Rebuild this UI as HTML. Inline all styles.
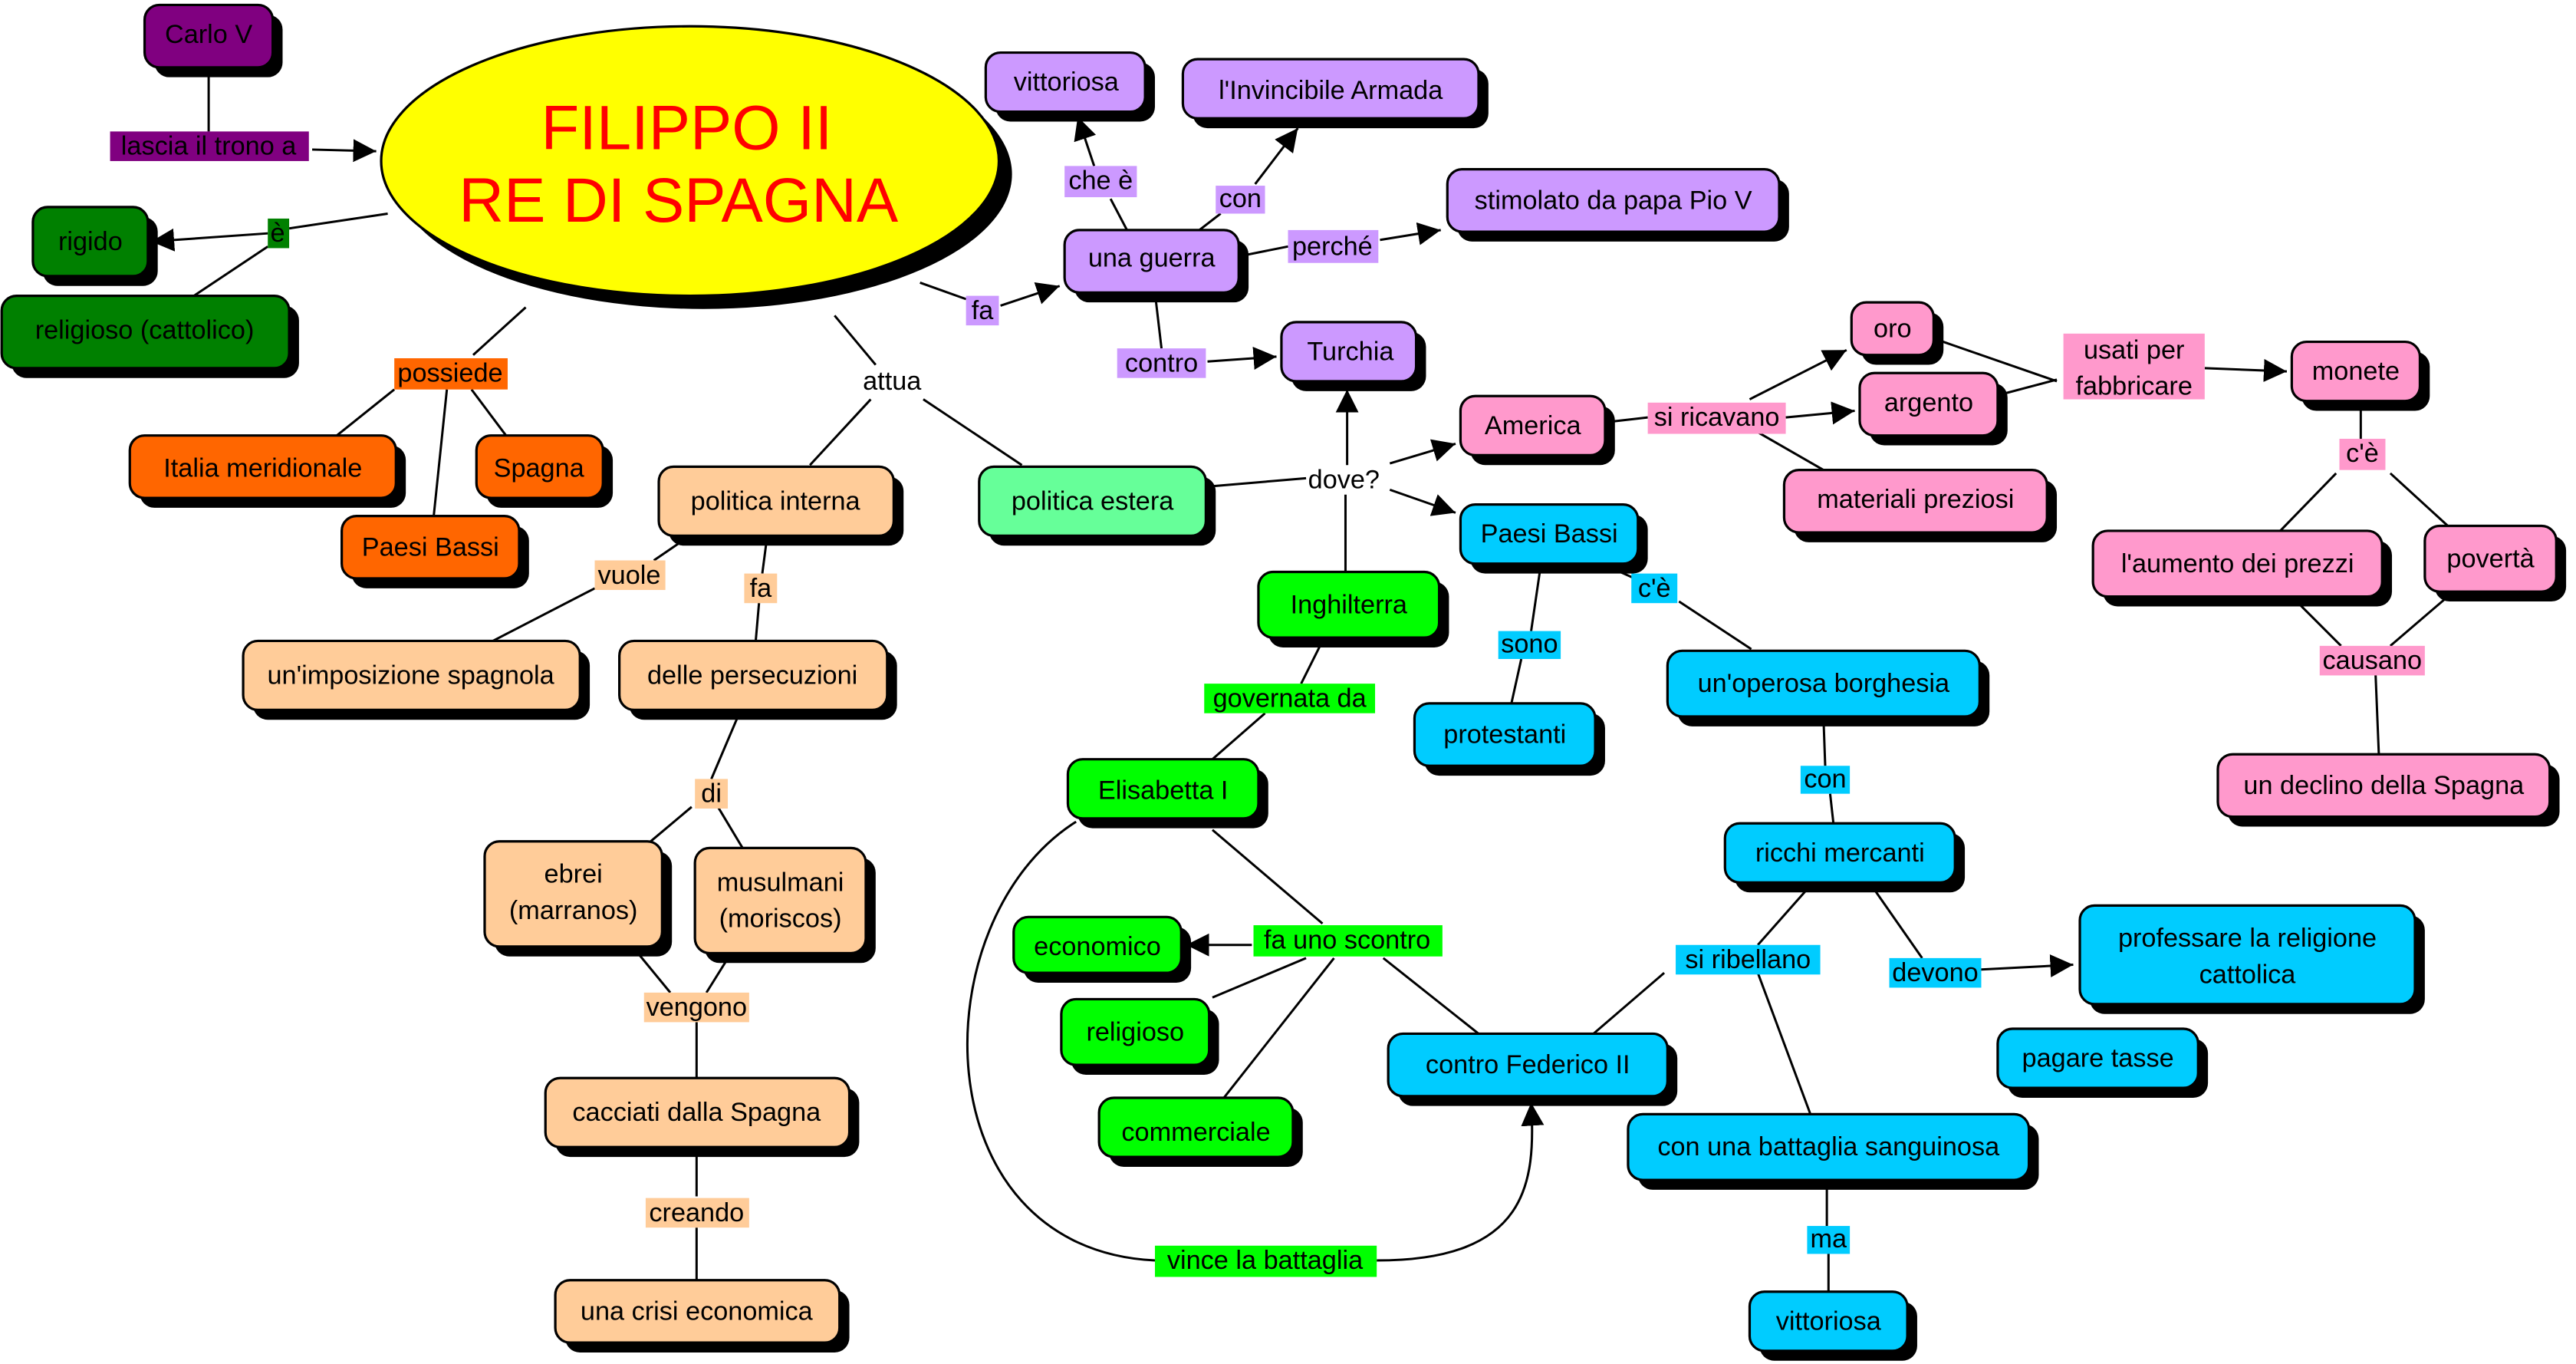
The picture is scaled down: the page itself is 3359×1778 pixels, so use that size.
<!DOCTYPE html>
<html><head><meta charset="utf-8"><style>
html,body{margin:0;padding:0;background:#fff;}
svg{display:block;}
text{font-family:"Liberation Sans",sans-serif;font-size:16px;fill:#000;text-anchor:middle;dominant-baseline:central;}
.n rect.s{fill:#000;}
.n rect.f{stroke:#000;stroke-width:1.5;}
line,path{stroke:#000;stroke-width:1.4;fill:none;}
</style></head><body>
<svg width="3359" height="1778" viewBox="0 0 1568 830" xmlns="http://www.w3.org/2000/svg">
<defs><marker id="a" viewBox="0 0 10 10" refX="10" refY="5" markerWidth="10" markerHeight="10" markerUnits="userSpaceOnUse" orient="auto"><path d="M0,0L10,5L0,10z" style="fill:#000;stroke:none"/></marker>
<marker id="b" viewBox="0 0 10 10" refX="10" refY="5" markerWidth="14" markerHeight="14" markerUnits="userSpaceOnUse" orient="auto"><path d="M0,0L10,5L0,10z" style="fill:#000;stroke:none"/></marker></defs>

<!-- edges -->
<g>
<line x1="127" y1="41" x2="127" y2="80"/>
<line x1="190" y1="91" x2="229" y2="92" marker-end="url(#b)"/>
<line x1="236" y1="130" x2="176" y2="139"/>
<line x1="163" y1="142" x2="92" y2="147" marker-end="url(#b)"/>
<line x1="163" y1="150" x2="118" y2="180"/>
<line x1="320" y1="187" x2="288" y2="216"/>
<line x1="240" y1="237" x2="205" y2="265"/>
<line x1="272" y1="237" x2="264" y2="314"/>
<line x1="287" y1="237" x2="308" y2="265"/>
<line x1="508" y1="192" x2="533" y2="222"/>
<line x1="530" y1="243" x2="493" y2="283"/>
<line x1="562" y1="243" x2="622" y2="283"/>
<line x1="560" y1="172" x2="588" y2="182"/>
<line x1="609" y1="186" x2="645" y2="174" marker-end="url(#b)"/>
<line x1="420" y1="326" x2="398" y2="341"/>
<line x1="362" y1="358" x2="300" y2="390"/>
<line x1="467" y1="326" x2="464" y2="349"/>
<line x1="462" y1="367" x2="460" y2="390"/>
<line x1="450" y1="434" x2="433" y2="474"/>
<line x1="421" y1="491" x2="396" y2="512"/>
<line x1="437" y1="491" x2="452" y2="516"/>
<line x1="385" y1="576" x2="408" y2="604"/>
<line x1="445" y1="580" x2="430" y2="604"/>
<line x1="424" y1="622" x2="424" y2="656"/>
<line x1="424" y1="700" x2="424" y2="728"/>
<line x1="424" y1="747" x2="424" y2="779"/>
<line x1="686" y1="140" x2="676" y2="121"/>
<line x1="666" y1="101" x2="656" y2="71" marker-end="url(#b)"/>
<line x1="730" y1="140" x2="743" y2="130"/>
<line x1="764" y1="112" x2="790" y2="78" marker-end="url(#b)"/>
<line x1="754" y1="156" x2="784" y2="150"/>
<line x1="840" y1="146" x2="877" y2="140" marker-end="url(#b)"/>
<line x1="703" y1="178" x2="707" y2="212"/>
<line x1="735" y1="220" x2="777" y2="217" marker-end="url(#b)"/>
<line x1="736" y1="296" x2="795" y2="291"/>
<line x1="820" y1="283" x2="820" y2="237" marker-end="url(#b)"/>
<line x1="846" y1="282" x2="886" y2="270" marker-end="url(#b)"/>
<line x1="846" y1="298" x2="886" y2="312" marker-end="url(#b)"/>
<line x1="819" y1="301" x2="819" y2="348"/>
<line x1="977" y1="257" x2="1003" y2="254"/>
<line x1="1065" y1="243" x2="1124" y2="213" marker-end="url(#b)"/>
<line x1="1087" y1="254" x2="1129" y2="250" marker-end="url(#b)"/>
<line x1="1070" y1="263" x2="1110" y2="286"/>
<line x1="1180" y1="207" x2="1252" y2="232"/>
<line x1="1218" y1="240" x2="1252" y2="231"/>
<line x1="1342" y1="224" x2="1392" y2="226" marker-end="url(#b)"/>
<line x1="1437" y1="244" x2="1437" y2="267"/>
<line x1="1422" y1="288" x2="1388" y2="323"/>
<line x1="1455" y1="288" x2="1490" y2="320"/>
<line x1="1398" y1="366" x2="1425" y2="393"/>
<line x1="1490" y1="363" x2="1455" y2="393"/>
<line x1="1446" y1="410" x2="1448" y2="459"/>
<line x1="938" y1="343" x2="932" y2="384"/>
<line x1="926" y1="401" x2="920" y2="428"/>
<line x1="975" y1="343" x2="995" y2="352"/>
<line x1="1022" y1="366" x2="1066" y2="395"/>
<line x1="1110" y1="438" x2="1111" y2="466"/>
<line x1="1114" y1="483" x2="1116" y2="501"/>
<line x1="1101" y1="540" x2="1070" y2="575"/>
<line x1="1140" y1="540" x2="1170" y2="583"/>
<line x1="1013" y1="592" x2="970" y2="629"/>
<line x1="1070" y1="592" x2="1102" y2="678"/>
<line x1="1205" y1="590" x2="1262" y2="587" marker-end="url(#b)"/>
<line x1="1112" y1="720" x2="1112" y2="746"/>
<line x1="1113" y1="763" x2="1113" y2="786"/>
<line x1="805" y1="390" x2="792" y2="416"/>
<line x1="770" y1="434" x2="738" y2="462"/>
<line x1="738" y1="505" x2="805" y2="562"/>
<line x1="762" y1="575" x2="722" y2="575" marker-end="url(#b)"/>
<line x1="795" y1="583" x2="738" y2="607"/>
<line x1="812" y1="583" x2="745" y2="668"/>
<line x1="842" y1="583" x2="900" y2="629"/>
<path d="M655,500 C560,560 560,760 703,767"/>
<path d="M838,767 C930,767 935,720 932,671" marker-end="url(#b)"/>
</g>

<!-- ellipse -->
<ellipse cx="428" cy="106" rx="188" ry="82" fill="#000"/>
<ellipse cx="420" cy="98" rx="188" ry="82" fill="#ffff00" stroke="#000" stroke-width="1.5"/>
<text x="418" y="78" style="font-size:38px;fill:#ff0000">FILIPPO II</text>
<text x="413" y="122" style="font-size:38px;fill:#ff0000">RE DI SPAGNA</text>

<!-- labels -->
<g>
<rect x="67" y="80" width="121" height="18" fill="#800080"/><text x="127" y="89">lascia il trono a</text>
<rect x="163" y="133" width="13" height="18" fill="#008000"/><text x="169" y="142">è</text>
<rect x="240" y="218" width="69" height="19" fill="#ff6600"/><text x="274" y="227">possiede</text>
<text x="543" y="232">attua</text>
<rect x="588" y="180" width="20" height="18" fill="#cc99ff"/><text x="598" y="189">fa</text>
<rect x="362" y="341" width="43" height="18" fill="#ffcc99"/><text x="383" y="350">vuole</text>
<rect x="453" y="349" width="20" height="18" fill="#ffcc99"/><text x="463" y="358">fa</text>
<rect x="423" y="474" width="20" height="18" fill="#ffcc99"/><text x="433" y="483">di</text>
<rect x="392" y="604" width="64" height="18" fill="#ffcc99"/><text x="424" y="613">vengono</text>
<rect x="393" y="729" width="63" height="18" fill="#ffcc99"/><text x="424" y="738">creando</text>
<rect x="648" y="101" width="44" height="19" fill="#cc99ff"/><text x="670" y="110">che è</text>
<rect x="740" y="113" width="30" height="17" fill="#cc99ff"/><text x="755" y="121">con</text>
<rect x="784" y="140" width="55" height="20" fill="#cc99ff"/><text x="811" y="150">perché</text>
<rect x="680" y="212" width="54" height="18" fill="#cc99ff"/><text x="707" y="221">contro</text>
<text x="818" y="292">dove?</text>
<rect x="1003" y="245" width="84" height="19" fill="#ff99cc"/><text x="1045" y="254">si ricavano</text>
<rect x="1256" y="203" width="86" height="40" fill="#ff99cc"/><text x="1299" y="213">usati per</text><text x="1299" y="235">fabbricare</text>
<rect x="1424" y="267" width="28" height="19" fill="#ff99cc"/><text x="1438" y="276">c'è</text>
<rect x="1412" y="393" width="64" height="18" fill="#ff99cc"/><text x="1444" y="402">causano</text>
<rect x="912" y="384" width="38" height="17" fill="#00ccff"/><text x="931" y="392">sono</text>
<rect x="993" y="349" width="28" height="18" fill="#00ccff"/><text x="1007" y="358">c'è</text>
<rect x="1096" y="466" width="30" height="17" fill="#00ccff"/><text x="1111" y="474">con</text>
<rect x="1020" y="575" width="88" height="18" fill="#00ccff"/><text x="1064" y="584">si ribellano</text>
<rect x="1150" y="583" width="56" height="18" fill="#00ccff"/><text x="1178" y="592">devono</text>
<rect x="1100" y="746" width="26" height="17" fill="#00ccff"/><text x="1113" y="754">ma</text>
<rect x="733" y="416" width="104" height="18" fill="#00ff00"/><text x="785" y="425">governata da</text>
<rect x="763" y="563" width="115" height="19" fill="#00ff00"/><text x="820" y="572">fa uno scontro</text>
<rect x="703" y="758" width="135" height="19" fill="#00ff00"/><text x="770" y="767">vince la battaglia</text>
</g>

<!-- nodes -->
<g class="n">
<rect class="s" x="94" y="9" width="78" height="38" rx="9"/><rect class="f" x="88" y="3" width="78" height="38" rx="9" fill="#800080"/><text x="127" y="21">Carlo V</text>
<rect class="s" x="26" y="132" width="70" height="42" rx="9"/><rect class="f" x="20" y="126" width="70" height="42" rx="9" fill="#008000"/><text x="55" y="147">rigido</text>
<rect class="s" x="7" y="186" width="175" height="44" rx="9"/><rect class="f" x="1" y="180" width="175" height="44" rx="9" fill="#008000"/><text x="88" y="201">religioso (cattolico)</text>
<rect class="s" x="85" y="271" width="162" height="38" rx="9"/><rect class="f" x="79" y="265" width="162" height="38" rx="9" fill="#ff6600"/><text x="160" y="285">Italia meridionale</text>
<rect class="s" x="296" y="271" width="77" height="38" rx="9"/><rect class="f" x="290" y="265" width="77" height="38" rx="9" fill="#ff6600"/><text x="328" y="285">Spagna</text>
<rect class="s" x="214" y="320" width="108" height="38" rx="9"/><rect class="f" x="208" y="314" width="108" height="38" rx="9" fill="#ff6600"/><text x="262" y="333">Paesi Bassi</text>
<rect class="s" x="407" y="290" width="143" height="42" rx="9"/><rect class="f" x="401" y="284" width="143" height="42" rx="9" fill="#ffcc99"/><text x="472" y="305">politica interna</text>
<rect class="s" x="602" y="290" width="138" height="42" rx="9"/><rect class="f" x="596" y="284" width="138" height="42" rx="9" fill="#66ff99"/><text x="665" y="305">politica estera</text>
<rect class="s" x="154" y="396" width="205" height="42" rx="9"/><rect class="f" x="148" y="390" width="205" height="42" rx="9" fill="#ffcc99"/><text x="250" y="411">un'imposizione spagnola</text>
<rect class="s" x="383" y="396" width="163" height="42" rx="9"/><rect class="f" x="377" y="390" width="163" height="42" rx="9" fill="#ffcc99"/><text x="458" y="411">delle persecuzioni</text>
<rect class="s" x="301" y="518" width="108" height="64" rx="9"/><rect class="f" x="295" y="512" width="108" height="64" rx="9" fill="#ffcc99"/><text x="349" y="532">ebrei</text><text x="349" y="554">(marranos)</text>
<rect class="s" x="429" y="522" width="104" height="64" rx="9"/><rect class="f" x="423" y="516" width="104" height="64" rx="9" fill="#ffcc99"/><text x="475" y="537">musulmani</text><text x="475" y="559">(moriscos)</text>
<rect class="s" x="338" y="662" width="185" height="42" rx="9"/><rect class="f" x="332" y="656" width="185" height="42" rx="9" fill="#ffcc99"/><text x="424" y="677">cacciati dalla Spagna</text>
<rect class="s" x="344" y="785" width="173" height="38" rx="9"/><rect class="f" x="338" y="779" width="173" height="38" rx="9" fill="#ffcc99"/><text x="424" y="798">una crisi economica</text>
<rect class="s" x="654" y="146" width="106" height="38" rx="9"/><rect class="f" x="648" y="140" width="106" height="38" rx="9" fill="#cc99ff"/><text x="701" y="157">una guerra</text>
<rect class="s" x="606" y="38" width="97" height="36" rx="9"/><rect class="f" x="600" y="32" width="97" height="36" rx="9" fill="#cc99ff"/><text x="649" y="50">vittoriosa</text>
<rect class="s" x="726" y="42" width="180" height="36" rx="9"/><rect class="f" x="720" y="36" width="180" height="36" rx="9" fill="#cc99ff"/><text x="810" y="55">l'Invincibile Armada</text>
<rect class="s" x="887" y="109" width="202" height="38" rx="9"/><rect class="f" x="881" y="103" width="202" height="38" rx="9" fill="#cc99ff"/><text x="982" y="122">stimolato da papa Pio V</text>
<rect class="s" x="786" y="202" width="82" height="36" rx="9"/><rect class="f" x="780" y="196" width="82" height="36" rx="9" fill="#cc99ff"/><text x="822" y="214">Turchia</text>
<rect class="s" x="895" y="247" width="88" height="36" rx="9"/><rect class="f" x="889" y="241" width="88" height="36" rx="9" fill="#ff99cc"/><text x="933" y="259">America</text>
<rect class="s" x="895" y="313" width="108" height="36" rx="9"/><rect class="f" x="889" y="307" width="108" height="36" rx="9" fill="#00ccff"/><text x="943" y="325">Paesi Bassi</text>
<rect class="s" x="772" y="354" width="110" height="40" rx="9"/><rect class="f" x="766" y="348" width="110" height="40" rx="9" fill="#00ff00"/><text x="821" y="368">Inghilterra</text>
<rect class="s" x="1133" y="190" width="50" height="32" rx="9"/><rect class="f" x="1127" y="184" width="50" height="32" rx="9" fill="#ff99cc"/><text x="1152" y="200">oro</text>
<rect class="s" x="1138" y="233" width="84" height="38" rx="9"/><rect class="f" x="1132" y="227" width="84" height="38" rx="9" fill="#ff99cc"/><text x="1174" y="245">argento</text>
<rect class="s" x="1092" y="292" width="160" height="38" rx="9"/><rect class="f" x="1086" y="286" width="160" height="38" rx="9" fill="#ff99cc"/><text x="1166" y="304">materiali preziosi</text>
<rect class="s" x="1401" y="214" width="78" height="36" rx="9"/><rect class="f" x="1395" y="208" width="78" height="36" rx="9" fill="#ff99cc"/><text x="1434" y="226">monete</text>
<rect class="s" x="1280" y="329" width="176" height="40" rx="9"/><rect class="f" x="1274" y="323" width="176" height="40" rx="9" fill="#ff99cc"/><text x="1362" y="343">l'aumento dei prezzi</text>
<rect class="s" x="1482" y="326" width="80" height="40" rx="9"/><rect class="f" x="1476" y="320" width="80" height="40" rx="9" fill="#ff99cc"/><text x="1516" y="340">povertà</text>
<rect class="s" x="1356" y="465" width="202" height="38" rx="9"/><rect class="f" x="1350" y="459" width="202" height="38" rx="9" fill="#ff99cc"/><text x="1451" y="478">un declino della Spagna</text>
<rect class="s" x="867" y="434" width="110" height="38" rx="9"/><rect class="f" x="861" y="428" width="110" height="38" rx="9" fill="#00ccff"/><text x="916" y="447">protestanti</text>
<rect class="s" x="1021" y="402" width="190" height="40" rx="9"/><rect class="f" x="1015" y="396" width="190" height="40" rx="9" fill="#00ccff"/><text x="1110" y="416">un'operosa borghesia</text>
<rect class="s" x="1056" y="507" width="140" height="36" rx="9"/><rect class="f" x="1050" y="501" width="140" height="36" rx="9" fill="#00ccff"/><text x="1120" y="519">ricchi mercanti</text>
<rect class="s" x="1272" y="557" width="204" height="60" rx="9"/><rect class="f" x="1266" y="551" width="204" height="60" rx="9" fill="#00ccff"/><text x="1368" y="571">professare la religione</text><text x="1368" y="593">cattolica</text>
<rect class="s" x="1222" y="632" width="122" height="36" rx="9"/><rect class="f" x="1216" y="626" width="122" height="36" rx="9" fill="#00ccff"/><text x="1277" y="644">pagare tasse</text>
<rect class="s" x="851" y="635" width="170" height="38" rx="9"/><rect class="f" x="845" y="629" width="170" height="38" rx="9" fill="#00ccff"/><text x="930" y="648">contro Federico II</text>
<rect class="s" x="997" y="684" width="244" height="40" rx="9"/><rect class="f" x="991" y="678" width="244" height="40" rx="9" fill="#00ccff"/><text x="1113" y="698">con una battaglia sanguinosa</text>
<rect class="s" x="1071" y="792" width="96" height="36" rx="9"/><rect class="f" x="1065" y="786" width="96" height="36" rx="9" fill="#00ccff"/><text x="1113" y="804">vittoriosa</text>
<rect class="s" x="656" y="468" width="116" height="36" rx="9"/><rect class="f" x="650" y="462" width="116" height="36" rx="9" fill="#00ff00"/><text x="708" y="481">Elisabetta I</text>
<rect class="s" x="623" y="564" width="102" height="34" rx="9"/><rect class="f" x="617" y="558" width="102" height="34" rx="9" fill="#00ff00"/><text x="668" y="576">economico</text>
<rect class="s" x="652" y="614" width="90" height="40" rx="9"/><rect class="f" x="646" y="608" width="90" height="40" rx="9" fill="#00ff00"/><text x="691" y="628">religioso</text>
<rect class="s" x="675" y="674" width="118" height="36" rx="9"/><rect class="f" x="669" y="668" width="118" height="36" rx="9" fill="#00ff00"/><text x="728" y="689">commerciale</text>
</g>
</svg>
</body></html>
